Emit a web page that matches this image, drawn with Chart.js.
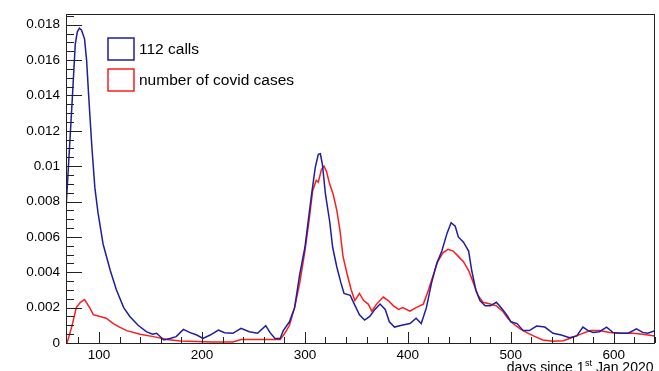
<!DOCTYPE html>
<html>
<head>
<meta charset="utf-8">
<script src="https://cdn.jsdelivr.net/npm/chart.js@4.4.0/dist/chart.umd.min.js"></script>
<style>
  html, body { margin: 0; padding: 0; background: #fff; }
  #wrap { width: 659px; height: 371px; }
</style>
</head>
<body>
<div id="wrap"><canvas id="myChart" width="659" height="371"></canvas></div>
<script>
// 112 calls (blue)
var callDays = [68, 70, 74, 77, 79, 81, 83, 86, 88, 90, 93, 96, 99, 104, 111, 117, 124, 130, 138, 146, 152, 156, 163, 169, 175, 182, 188, 195, 201, 208, 216, 222, 230, 238, 246, 254, 262, 266, 271, 276, 279, 285, 290, 295, 300, 303, 306.5, 310, 313, 315, 317, 320, 324, 327, 331, 335, 338, 344, 348, 353, 358, 363, 368, 373, 378, 382, 387, 394, 402, 408, 413, 418, 423, 428, 433, 438, 442, 446, 449, 454, 459, 462, 466, 470, 475, 480, 486, 492, 497, 500, 506, 512, 518, 525, 533, 541, 549, 557, 564, 570, 575, 580, 586, 593, 599, 606, 614, 622, 628, 633, 640];
var callValues = [0.0076, 0.0096, 0.0137, 0.0169, 0.0176, 0.0178, 0.0177, 0.0172, 0.0160, 0.0140, 0.0112, 0.0088, 0.0074, 0.0056, 0.0041, 0.0030, 0.0020, 0.0015, 0.0010, 0.00064, 0.0005, 0.00055, 0.00017, 0.00026, 0.00036, 0.00077, 0.0006, 0.00045, 0.00026, 0.00045, 0.00073, 0.00058, 0.00055, 0.00083, 0.00064, 0.00055, 0.00098, 0.0006, 0.00026, 0.00026, 0.0007, 0.0012, 0.0020, 0.0039, 0.0054, 0.0068, 0.0084, 0.0099, 0.01067, 0.0107, 0.0101, 0.0084, 0.0069, 0.0054, 0.0043, 0.0034, 0.0028, 0.0027, 0.0022, 0.0016, 0.0013, 0.0015, 0.0019, 0.0022, 0.0019, 0.0012, 0.0009, 0.0010, 0.0011, 0.0014, 0.0011, 0.0020, 0.0034, 0.0045, 0.0052, 0.0062, 0.0068, 0.0066, 0.0060, 0.0057, 0.0052, 0.0041, 0.0030, 0.0024, 0.0021, 0.0021, 0.0023, 0.0019, 0.0015, 0.0012, 0.0011, 0.0007, 0.0007, 0.00096, 0.0009, 0.00055, 0.00045, 0.0003, 0.0004, 0.0009, 0.0007, 0.0006, 0.00064, 0.0009, 0.0006, 0.00055, 0.00055, 0.0008, 0.0006, 0.00055, 0.0007];

// number of covid cases (red)
var caseDays = [68, 69, 73.5, 78, 82, 86, 91, 94.5, 101, 107, 114, 120, 127, 140, 153, 166, 179, 195, 210, 230, 238, 260, 276, 280, 285, 290, 295, 300, 304, 307.5, 311, 313, 316, 318.5, 321, 324, 327.5, 331, 334, 337, 341, 345, 348.5, 353, 357, 361.5, 365, 369.6, 376, 381, 386, 391, 395, 402, 408, 415, 420, 425, 429, 434, 439, 444, 449, 454, 459, 463, 468, 473, 480, 486, 492, 497, 502, 509, 515, 522, 531, 541, 551, 559, 568, 577, 586, 596, 606, 619, 628, 640];
var caseValues = [0, 0, 0.0009, 0.0020, 0.0023, 0.00246, 0.0020, 0.0016, 0.0015, 0.0014, 0.0011, 0.0009, 0.0007, 0.0005, 0.00036, 0.0002, 0.00012, 0.00008, 0.00005, 0.00006, 0.0002, 0.0002, 0.0002, 0.0005, 0.0010, 0.0020, 0.0034, 0.0052, 0.0069, 0.0086, 0.0092, 0.0091, 0.0098, 0.0100, 0.0097, 0.0090, 0.0084, 0.0075, 0.0064, 0.0049, 0.0039, 0.0030, 0.0024, 0.0028, 0.0024, 0.0022, 0.0018, 0.0022, 0.0026, 0.0024, 0.0021, 0.0019, 0.0020, 0.0018, 0.0020, 0.0022, 0.0030, 0.0039, 0.0046, 0.0051, 0.0053, 0.0052, 0.0049, 0.0046, 0.0041, 0.0035, 0.0027, 0.0023, 0.0022, 0.0021, 0.0018, 0.0014, 0.0011, 0.0008, 0.0006, 0.0004, 0.00017, 0.0001, 0.00013, 0.0003, 0.0005, 0.0007, 0.0007, 0.0006, 0.00055, 0.00055, 0.0005, 0.0004];

var xTickValues = [100, 200, 300, 400, 500, 600];
var yTickValues = [0, 0.002, 0.004, 0.006, 0.008, 0.01, 0.012, 0.014, 0.016, 0.018];
var legendLabels = ['112 calls', 'number of covid cases'];
var xTitle = ['days since 1', 'st', ' Jan 2020'];

var blue = 'rgb(30,30,160)';
var red = 'rgb(250,30,30)';

function toPoints(xs, ys) {
    return xs.map(function (d, i) { return { x: d, y: ys[i] }; });
}

// frame, inside ticks, legend and axis title like ROOT draws them
var rootStyle = {
    id: 'rootStyle',
    afterDraw: function (chart) {
        var ctx = chart.ctx, a = chart.chartArea;
        var x = chart.scales.x, y = chart.scales.y;
        ctx.save();
        ctx.strokeStyle = '#222';
        ctx.lineWidth = 1;
        ctx.strokeRect(Math.round(a.left) + 0.5, Math.round(a.top) + 0.5,
            Math.round(a.right - a.left) - 1, Math.round(a.bottom - a.top));

        ctx.beginPath();
        for (var i = 0; i <= 37; i++) {
            var v = i * 0.0005;
            if (v > y.max) break;
            var py = Math.round(y.getPixelForValue(v)) + 0.5;
            var len = (i % 4 === 0) ? 16 : 8;
            ctx.moveTo(a.left, py);
            ctx.lineTo(a.left + len, py);
        }
        for (var d = 80; d <= 640; d += 20) {
            var px = Math.round(x.getPixelForValue(d)) + 0.5;
            var l = (d % 100 === 0) ? 11 : 6;
            ctx.moveTo(px, a.bottom);
            ctx.lineTo(px, a.bottom - l);
        }
        ctx.stroke();

        // legend
        var colors = [blue, red];
        ctx.lineWidth = 1.5;
        ctx.font = '15.5px "Liberation Sans", Arial, sans-serif';
        ctx.textBaseline = 'middle';
        ctx.fillStyle = '#000';
        for (var k = 0; k < legendLabels.length; k++) {
            var top = 38 + k * 31;
            ctx.strokeStyle = colors[k];
            ctx.strokeRect(108, top, 26, 22);
            ctx.fillText(legendLabels[k], 139, top + 12);
        }

        // x axis title, right aligned, baseline partly off canvas
        ctx.textBaseline = 'alphabetic';
        ctx.font = '14px "Liberation Sans", Arial, sans-serif';
        var w1 = ctx.measureText(xTitle[0]).width;
        var w3 = ctx.measureText(xTitle[2]).width;
        ctx.font = '9px "Liberation Sans", Arial, sans-serif';
        var w2 = ctx.measureText(xTitle[1]).width;
        var start = 653 - (w1 + w2 + w3);
        var base = 372;
        ctx.font = '14px "Liberation Sans", Arial, sans-serif';
        ctx.fillText(xTitle[0], start, base);
        ctx.font = '9px "Liberation Sans", Arial, sans-serif';
        ctx.fillText(xTitle[1], start + w1 + 0.5, base - 6);
        ctx.font = '14px "Liberation Sans", Arial, sans-serif';
        ctx.fillText(xTitle[2], start + w1 + w2 + 0.5, base);
        ctx.restore();
    }
};

var ctx = document.getElementById('myChart').getContext('2d');
var myChart = new Chart(ctx, {
    type: 'line',
    data: {
        datasets: [{
            label: legendLabels[0],
            data: toPoints(callDays, callValues),
            borderColor: blue,
            borderWidth: 1.5,
            pointRadius: 0,
            tension: 0,
            fill: false
        }, {
            label: legendLabels[1],
            data: toPoints(caseDays, caseValues),
            borderColor: red,
            borderWidth: 1.5,
            pointRadius: 0,
            tension: 0,
            fill: false
        }]
    },
    options: {
        responsive: false,
        animation: false,
        layout: { padding: { left: 0, top: 12, right: 4, bottom: 0 } },
        plugins: {
            legend: { display: false },
            tooltip: { enabled: false }
        },
        scales: {
            x: {
                type: 'linear',
                min: 68,
                max: 640,
                grid: { display: false, drawTicks: false },
                border: { display: false },
                afterBuildTicks: function (scale) {
                    scale.ticks = xTickValues.map(function (v) { return { value: v }; });
                },
                afterFit: function (scale) { scale.height = 28; },
                ticks: {
                    padding: 4,
                    maxRotation: 0,
                    autoSkip: false,
                    color: '#000',
                    font: { family: '"Liberation Sans", Arial, sans-serif', size: 13.5 }
                }
            },
            y: {
                type: 'linear',
                min: 0,
                max: 0.0186,
                grid: { display: false, drawTicks: false },
                border: { display: false },
                afterBuildTicks: function (scale) {
                    scale.ticks = yTickValues.map(function (v) { return { value: v }; });
                },
                afterFit: function (scale) { scale.width = 66; },
                ticks: {
                    padding: 6,
                    color: '#000',
                    font: { family: '"Liberation Sans", Arial, sans-serif', size: 13.5 },
                    callback: function (v) { return String(+v.toFixed(4)); }
                }
            }
        }
    },
    plugins: [rootStyle]
});
</script>
</body>
</html>
